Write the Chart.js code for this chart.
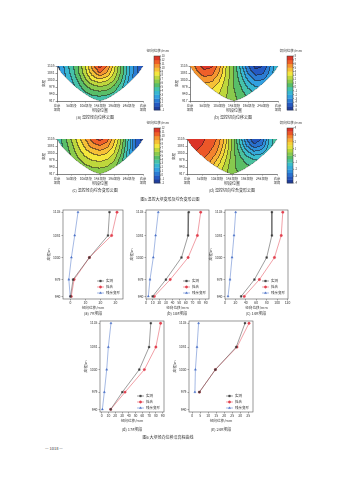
<!DOCTYPE html>
<html lang="zh">
<head>
<meta charset="utf-8">
<title>温控变形云图与径向位移曲线</title>
<script src="https://cdn.jsdelivr.net/npm/chart.js@4.4.1/dist/chart.umd.min.js"></script>
<style>
  html, body { margin: 0; padding: 0; background: #fff; }
  body { position: relative; width: 339px; height: 480px; overflow: hidden;
         font-family: 'Noto Sans CJK SC', 'DejaVu Sans', sans-serif; color: #333; }
  canvas { position: absolute; }
  .cap { position: absolute; white-space: nowrap; line-height: 1; font-size: 4px; transform: translateX(-50%); }
</style>
</head>
<body>
<canvas id="ctA"></canvas>
<canvas id="ctB"></canvas>
<canvas id="ctC"></canvas>
<canvas id="ctD"></canvas>
<canvas id="ln7"></canvas>
<canvas id="ln10"></canvas>
<canvas id="ln14"></canvas>
<canvas id="ln17"></canvas>
<canvas id="ln24"></canvas>

<div class="cap" style="left:100px;top:108px">坝段位置</div>
<div class="cap" style="left:234px;top:108px">坝段位置</div>
<div class="cap" style="left:100px;top:181px">坝段位置</div>
<div class="cap" style="left:232px;top:181px">坝段位置</div>
<div class="cap" style="left:95px;top:115px">(a) 温控径向位移云图</div>
<div class="cap" style="left:233px;top:115px">(b) 温控切向位移云图</div>
<div class="cap" style="left:95px;top:188px">(c) 温控径向综合变形云图</div>
<div class="cap" style="left:232px;top:188px">(d) 温控切向综合变形云图</div>
<div class="cap" style="left:170px;top:197px">图5 温控大坝变形及综合变形云图</div>
<div class="cap" style="left:93px;top:311px">(a) 7#坝段</div>
<div class="cap" style="left:177px;top:311px">(b) 10#坝段</div>
<div class="cap" style="left:256px;top:311px">(c) 14#坝段</div>
<div class="cap" style="left:132px;top:427px">(d) 17#坝段</div>
<div class="cap" style="left:221px;top:427px">(e) 24#坝段</div>
<div class="cap" style="left:168px;top:435px">图6 大坝径向位移沿高程曲线</div>
<div class="cap" style="left:54px;top:446px">— 1018 —</div>

<script>
const FF = "'Noto Sans CJK SC', 'DejaVu Sans', sans-serif";
Chart.defaults.font.family = FF;
Chart.defaults.color = '#333';

// ---------- contour maps (fig 5) ----------
const sectionLabels = [['左岸', '坝肩'], '5#坝段', '10#坝段', '14#坝段', '19#坝段', '24#坝段', ['右岸', '坝肩']];
const contourElev = ['917', '940', '979', '1030', '1081', '1135'];
const gridCols = [0, 0.5, 1, 1.5, 2, 2.5, 3, 3.5, 4, 4.5, 5, 5.5, 6];
// valley (foundation) profile, y in elevation-row units
const valleyX = [0, 0.15, 0.3, 0.5, 0.8, 1.1, 1.4, 1.8, 2.2, 2.6, 3, 3.4, 3.8, 4.2, 4.6, 4.9, 5.2, 5.5, 5.7, 5.85, 6];
const valleyY = [5, 4.5, 4.05, 3.6, 2.95, 2.4, 1.85, 1.25, 0.7, 0.28, 0, 0.28, 0.7, 1.25, 1.85, 2.4, 2.95, 3.6, 4.05, 4.5, 5];

// rows: 917 (bottom) -> 1135 (top)
const radialTemp = [
  [0.5, 1.5, 2.3, 3, 3.7, 4.1, 4.2, 4, 3.6, 2.9, 1.9, 0.6, 0],
  [0.8, 1.8, 2.8, 3.8, 4.7, 5.3, 5.5, 5.3, 4.7, 3.6, 2.3, 0.8, 0],
  [1, 2.2, 3.3, 4.5, 5.8, 6.6, 7, 6.7, 5.8, 4.4, 2.7, 1, 0],
  [1.3, 2.5, 3.8, 5.2, 6.8, 8.2, 8.8, 8.2, 7, 5.2, 3, 1.2, 0],
  [1.5, 2.8, 4.2, 5.8, 7.6, 9.6, 11, 10, 8, 5.8, 3.4, 1.4, 0],
  [1.5, 3, 4.5, 6, 8, 10.5, 12.5, 11, 8.5, 6, 3.5, 1.5, 0]
];
const tangTemp = [
  [2.6, 3, 3.2, 3, 2.6, 2, 1.3, 0.7, 0.2, -0.3, -0.5, -0.4, 0],
  [3, 3.5, 3.7, 3.5, 3, 2.1, 1.2, 0.4, -0.4, -1, -1.1, -0.8, -0.2],
  [3.5, 4.2, 4.5, 4.3, 3.5, 2.3, 1, 0, -1.2, -2, -2, -1.3, -0.4],
  [4, 5, 5.5, 5.3, 4.2, 2.6, 1, -0.5, -2.2, -3.2, -3, -2, -0.6],
  [4.5, 5.8, 6.6, 6.4, 5, 2.8, 1, -1, -3.2, -4.5, -4.2, -2.6, -0.8],
  [5, 6.5, 7.5, 7.2, 5.5, 3, 1, -1.5, -4, -5.5, -5, -3, -1]
];
const radialComb = [
  [2, 2.8, 3.6, 4.3, 4.9, 5.2, 5.3, 5.1, 4.6, 3.5, 2, 0.6, 0],
  [2.2, 3.2, 4.2, 5, 5.7, 6.1, 6.2, 6, 5.3, 4, 2.1, 0.5, -0.3],
  [2.5, 3.6, 4.7, 5.8, 6.6, 7.1, 7.3, 7, 6.1, 4.5, 2.3, 0.4, -0.6],
  [2.8, 4, 5.2, 6.4, 7.5, 8.2, 8.5, 8.1, 7, 5.1, 2.5, 0.2, -1],
  [3, 4.2, 5.6, 7, 8.3, 9.5, 10, 9.4, 7.8, 5.6, 2.8, 0, -1.3],
  [3, 4.5, 6, 7.5, 9, 10.5, 11.5, 10.5, 8.5, 6, 3, 0, -1.5]
];
const tangComb = [
  [2.8, 2.8, 2.5, 2, 1.3, 0.7, 0.2, 0, -0.2, -0.3, -0.3, -0.2, 0],
  [3, 3, 2.8, 2.3, 1.6, 0.9, 0.2, -0.2, -0.4, -0.5, -0.5, -0.4, -0.2],
  [3.2, 3.2, 3, 2.7, 2, 1.2, 0.3, -0.3, -0.7, -1, -1, -0.7, -0.3],
  [3.5, 3.5, 3.3, 3, 2.5, 1.5, 0.4, -0.5, -1.3, -1.8, -1.6, -1, -0.4],
  [3.7, 3.7, 3.5, 3.3, 2.8, 1.8, 0.5, -0.8, -2, -2.8, -2.5, -1.3, -0.5],
  [3.8, 3.8, 3.6, 3.4, 3, 2, 0.5, -1, -2.5, -3.5, -3, -1.5, -0.5]
];
const cbRadialTemp = [-1, 0, 1, 2, 3, 4, 5, 6, 7, 8, 9, 10, 11, 12, 13];
const cbTangTemp = [-6, -5, -4, -3, -2, -1, 0, 1, 2, 3, 4, 5, 6, 7, 8];
const cbRadialComb = [-2, -1, 0, 1, 2, 3, 4, 5, 6, 7, 8, 9, 10, 11, 12];
const cbTangComb = [-4, -3, -2, -1, 0, 1, 2, 3, 4];

// ---------- radial displacement profiles (fig 6) ----------
const elev = [1135, 1081, 1030, 979, 940];
const seriesNames = ['实测', '拟合', '残余变形'];
const meas7 = [26, 25, 12.6, 1.7, 0];
const fit7 = [31, 27.4, 12.6, 2.4, 0.5];
const res7 = [5, 2.8, 0.6, -1.1, -0.2];
const meas10 = [64.5, 63.5, 53.5, 30, 10];
const fit10 = [82.5, 77.5, 63.5, 36.5, 12.5];
const res10 = [18.5, 14.5, 11, 6, 3.5];
const meas14 = [90, 90, 80, 56.5, 31];
const fit14 = [111, 108, 95, 66, 37];
const res14 = [20.5, 17.3, 13.5, 9.6, 5.8];
const meas17 = [72.5, 70, 55.5, 30.5, 13.3];
const fit17 = [87, 80, 63, 34.5, 13.3];
const res17 = [13.7, 9.8, 7.4, 3.9, 1];
const meas24 = [33, 27.5, 14.5, 4.5, null];
const fit24 = [35.5, 28, 14.5, 4.5, null];
const res24 = [4, 3, 2, 1.7, null];
const ticks7 = [0, 10, 20, 30];
const ticks10 = [0, 10, 20, 30, 40, 50, 60, 70, 80, 90];
const ticks14 = [0, 20, 40, 60, 80, 100, 120];
const ticks17 = [0, 10, 20, 30, 40, 50, 60, 70, 80, 90];
const ticks24 = [0, 5, 10, 15, 20, 25, 30, 35];

// colour ramp, similar to the Origin rainbow
const ramp = [
  [0, [28, 50, 140]], [0.12, [38, 95, 200]], [0.25, [50, 160, 225]], [0.36, [60, 195, 200]],
  [0.47, [90, 190, 100]], [0.58, [170, 210, 60]], [0.68, [245, 230, 60]], [0.8, [247, 165, 50]],
  [0.9, [238, 90, 40]], [1, [210, 35, 40]]
];
function colorAt(t) {
  t = Math.max(0, Math.min(1, t));
  for (let i = 1; i < ramp.length; i++) {
    if (t <= ramp[i][0]) {
      const [t0, c0] = ramp[i - 1], [t1, c1] = ramp[i];
      const f = (t - t0) / (t1 - t0);
      return c0.map((c, k) => Math.round(c + (c1[k] - c) * f));
    }
  }
  return ramp[ramp.length - 1][1];
}

function lerp(xs, ys, x) {
  if (x <= xs[0]) return ys[0];
  for (let i = 1; i < xs.length; i++) {
    if (x <= xs[i]) return ys[i - 1] + (ys[i] - ys[i - 1]) * (x - xs[i - 1]) / (xs[i] - xs[i - 1]);
  }
  return ys[ys.length - 1];
}

function sample(field, gx, gy) {
  const cf = Math.max(0, Math.min(gridCols.length - 1.0001, gx / 0.5));
  const rf = Math.max(0, Math.min(field.length - 1.0001, gy));
  const c = Math.floor(cf), r = Math.floor(rf), fc = cf - c, fr = rf - r;
  const a = field[r][c] + (field[r][c + 1] - field[r][c]) * fc;
  const b = field[r + 1][c] + (field[r + 1][c + 1] - field[r + 1][c]) * fc;
  return a + (b - a) * fr;
}

const contourPlugin = {
  id: 'contourField',
  beforeDatasetsDraw(chart, args, o) {
    const { ctx, chartArea: a, scales: { x, y } } = chart;
    const w = Math.round(a.right - a.left), h = Math.round(a.bottom - a.top);
    const off = document.createElement('canvas');
    off.width = w; off.height = h;
    const octx = off.getContext('2d');
    const img = octx.createImageData(w, h);
    const lev = new Int16Array(w * h).fill(-1);
    for (let py = 0; py < h; py++) {
      for (let px = 0; px < w; px++) {
        const gx = x.getValueForPixel(a.left + px + 0.5);
        const gy = y.getValueForPixel(a.top + py + 0.5);
        if (gy < lerp(valleyX, valleyY, gx)) continue;
        const t = (sample(o.field, gx, gy) - o.min) / (o.max - o.min);
        lev[py * w + px] = Math.max(0, Math.min(o.bands - 1, Math.floor(t * o.bands)));
      }
    }
    for (let py = 0; py < h; py++) {
      for (let px = 0; px < w; px++) {
        const i = py * w + px, l = lev[i];
        if (l < 0) continue;
        const edge = (px + 1 < w && lev[i + 1] >= 0 && lev[i + 1] !== l) ||
                     (py + 1 < h && lev[i + w] >= 0 && lev[i + w] !== l);
        let c = colorAt((l + 0.5) / o.bands);
        if (edge) c = c.map(v => Math.round(v * 0.45 + 30 * 0.55));
        img.data[i * 4] = c[0]; img.data[i * 4 + 1] = c[1]; img.data[i * 4 + 2] = c[2];
        img.data[i * 4 + 3] = 255;
      }
    }
    octx.putImageData(img, 0, 0);
    ctx.drawImage(off, a.left, a.top);
    // foundation outline
    ctx.save();
    ctx.strokeStyle = '#555';
    ctx.lineWidth = 0.4;
    ctx.beginPath();
    valleyX.forEach((vx, i) => {
      const px = x.getPixelForValue(vx), py = y.getPixelForValue(valleyY[i]);
      i ? ctx.lineTo(px, py) : ctx.moveTo(px, py);
    });
    ctx.stroke();
    ctx.restore();
  },
  afterDraw(chart, args, o) {
    const { ctx } = chart;
    const { x, y0, y1, w } = o.cb;
    ctx.save();
    for (let k = 0; k < o.bands; k++) {
      const c = colorAt((k + 0.5) / o.bands);
      ctx.fillStyle = `rgb(${c[0]},${c[1]},${c[2]})`;
      const ya = y1 - (k + 1) / o.bands * (y1 - y0);
      ctx.fillRect(x, ya, w, (y1 - y0) / o.bands + 0.3);
    }
    ctx.strokeStyle = '#333';
    ctx.lineWidth = 0.5;
    ctx.strokeRect(x, y0, w, y1 - y0);
    ctx.fillStyle = '#333';
    ctx.font = `2.9px ${FF}`;
    ctx.textBaseline = 'middle';
    ctx.textAlign = 'left';
    o.ticks.forEach(v => {
      const yy = y1 - (v - o.min) / (o.max - o.min) * (y1 - y0);
      ctx.beginPath(); ctx.moveTo(x + w, yy); ctx.lineTo(x + w + 1, yy); ctx.stroke();
      ctx.fillText(String(v), x + w + 1.5, yy);
    });
    ctx.font = `3.6px ${FF}`;
    ctx.textAlign = 'right';
    ctx.fillText(o.title, x + w + 9, y0 - 5);
    ctx.restore();
  }
};

const frameLegend = {
  id: 'frameLegend',
  afterDatasetsDraw(chart, args, o) {
    const { ctx, chartArea: a } = chart;
    ctx.save();
    ctx.strokeStyle = '#555';
    ctx.lineWidth = 0.6;
    ctx.strokeRect(a.left, a.top, a.right - a.left, a.bottom - a.top);
    const x0 = a.right - o.dx;
    chart.data.datasets.forEach((ds, i) => {
      const yy = a.bottom - o.dy + i * o.gap;
      ctx.strokeStyle = ds.borderColor;
      ctx.fillStyle = ds.backgroundColor;
      ctx.lineWidth = 0.5;
      ctx.beginPath(); ctx.moveTo(x0, yy); ctx.lineTo(x0 + 7, yy); ctx.stroke();
      ctx.lineWidth = 0.4;
      Chart.helpers.drawPoint(ctx, { pointStyle: ds.pointStyle, radius: 1.2, borderWidth: 0.4, rotation: 0 }, x0 + 3.5, yy);
      ctx.fillStyle = '#333';
      ctx.font = `3.5px ${FF}`;
      ctx.textBaseline = 'middle';
      ctx.fillText(ds.label, x0 + 9, yy);
    });
    ctx.restore();
  }
};

// put a canvas so that the chart area lands on the given page rectangle
function place(id, plot, yw, xh, pad) {
  const c = document.getElementById(id);
  const cl = plot.L - yw - pad.left, ct = plot.T - pad.top;
  const cw = plot.R + pad.right - cl, ch = plot.B + xh + pad.bottom - ct;
  Object.assign(c.style, { left: cl + 'px', top: ct + 'px', width: cw + 'px', height: ch + 'px' });
  c.width = cw; c.height = ch;
  return { c, cl, ct };
}

function contourChart(id, plot, cb, field, cbTicks, bands, cbTitle) {
  const yw = 16, xh = 11;
  const pad = { left: 2, top: plot.T - cb.y0 + 10, right: cb.x + 16 - plot.R, bottom: 2 };
  const g = place(id, plot, yw, xh, pad);
  new Chart(g.c, {
    type: 'scatter',
    data: { datasets: [] },
    options: {
      responsive: false, animation: false, devicePixelRatio: 1,
      layout: { autoPadding: false, padding: pad },
      plugins: {
        legend: { display: false }, tooltip: { enabled: false },
        contourField: {
          field, bands, title: cbTitle, ticks: cbTicks,
          min: cbTicks[0], max: cbTicks[cbTicks.length - 1],
          cb: { x: cb.x - g.cl, y0: cb.y0 - g.ct, y1: cb.y1 - g.ct, w: 6 }
        }
      },
      scales: {
        x: {
          type: 'linear', min: 0, max: 6,
          afterBuildTicks: s => { s.ticks = sectionLabels.map((_, i) => ({ value: i })); },
          afterFit: s => { s.height = xh; },
          ticks: { callback: v => sectionLabels[v], font: { size: 3.3, lineHeight: 1.2 }, padding: 1, maxRotation: 0, autoSkip: false },
          grid: { drawOnChartArea: false, tickLength: 1.5, color: '#333', lineWidth: 0.5 },
          border: { color: '#333', width: 0.6 }
        },
        y: {
          type: 'linear', min: 0, max: 5,
          afterBuildTicks: s => { s.ticks = contourElev.map((_, i) => ({ value: i })); },
          afterFit: s => { s.width = yw; },
          ticks: { callback: v => contourElev[v], font: { size: 3.3 }, padding: 1, autoSkip: false },
          title: { display: true, text: '高程', font: { size: 3.6 }, padding: 0 },
          grid: { drawOnChartArea: false, tickLength: 1.5, color: '#333', lineWidth: 0.5 },
          border: { color: '#333', width: 0.6 }
        }
      }
    },
    plugins: [contourPlugin]
  });
}

function lineChart(id, plot, meas, fit, res, xmin, xmax, xticks, leg) {
  const yw = 17, xh = 11;
  const pad = { left: 2, top: 4, right: 4, bottom: 1 };
  const g = place(id, plot, yw, xh, pad);
  const pts = v => elev.map((e, i) => ({ x: v[i], y: e })).filter(p => p.x !== null);
  const ds = (label, data, color, style) => ({
    label, data, showLine: true, borderColor: color, backgroundColor: color,
    pointStyle: style, pointRadius: 1.2, pointBorderWidth: 0.4, borderWidth: 0.5
  });
  new Chart(g.c, {
    type: 'scatter',
    data: {
      datasets: [
        ds(seriesNames[0], pts(meas), '#3c3c3c', 'rect'),
        ds(seriesNames[1], pts(fit), '#e2404e', 'circle'),
        ds(seriesNames[2], pts(res), '#4b72c8', 'triangle')
      ]
    },
    options: {
      responsive: false, animation: false, devicePixelRatio: 1,
      layout: { autoPadding: false, padding: pad },
      plugins: { legend: { display: false }, tooltip: { enabled: false }, frameLegend: leg },
      scales: {
        x: {
          type: 'linear', min: xmin, max: xmax,
          afterBuildTicks: s => { s.ticks = xticks.map(v => ({ value: v })); },
          afterFit: s => { s.height = xh; },
          ticks: { callback: v => String(v), font: { size: 3.4 }, padding: 0.5, maxRotation: 0, autoSkip: false },
          title: { display: true, text: '径向位移/mm', font: { size: 3.6 }, padding: { top: 0.5, bottom: 0 } },
          grid: { drawOnChartArea: false, tickLength: 1.5, color: '#555', lineWidth: 0.5 },
          border: { display: false }
        },
        y: {
          type: 'linear', min: 934, max: 1140,
          afterBuildTicks: s => { s.ticks = elev.map(v => ({ value: v })); },
          afterFit: s => { s.width = yw; },
          ticks: { callback: v => String(v), font: { size: 3.4 }, padding: 1, autoSkip: false },
          title: { display: true, text: '高程/m', font: { size: 3.6 }, padding: 0 },
          grid: { drawOnChartArea: false, tickLength: 1.5, color: '#555', lineWidth: 0.5 },
          border: { display: false }
        }
      }
    },
    plugins: [frameLegend]
  });
}

contourChart('ctA', { L: 57, T: 66, R: 143, B: 101 }, { x: 154, y0: 56, y1: 110 }, radialTemp, cbRadialTemp, 14, '径向位移/mm');
contourChart('ctB', { L: 190, T: 66, R: 278, B: 101 }, { x: 287, y0: 56, y1: 110 }, tangTemp, cbTangTemp, 14, '切向位移/mm');
contourChart('ctC', { L: 57, T: 139, R: 143, B: 174 }, { x: 154, y0: 128, y1: 183 }, radialComb, cbRadialComb, 14, '径向位移/mm');
contourChart('ctD', { L: 187, T: 139, R: 277, B: 174 }, { x: 287, y0: 128, y1: 183 }, tangComb, cbTangComb, 16, '切向位移/mm');

const legRow1 = { dx: 26, dy: 18, gap: 6 };
const legRow2 = { dx: 27, dy: 16, gap: 6 };
lineChart('ln7', { L: 63, T: 210, R: 123, B: 299 }, meas7, fit7, res7, -5, 35, ticks7, legRow1);
lineChart('ln10', { L: 146, T: 210, R: 209, B: 299 }, meas10, fit10, res10, 0, 95, ticks10, legRow1);
lineChart('ln14', { L: 225, T: 210, R: 288, B: 299 }, meas14, fit14, res14, 0, 121, ticks14, legRow1);
lineChart('ln17', { L: 100, T: 321, R: 164, B: 412 }, meas17, fit17, res17, -2.5, 92, ticks17, legRow2);
lineChart('ln24', { L: 189, T: 321, R: 253, B: 412 }, meas24, fit24, res24, -2, 38, ticks24, legRow2);
</script>
</body>
</html>
